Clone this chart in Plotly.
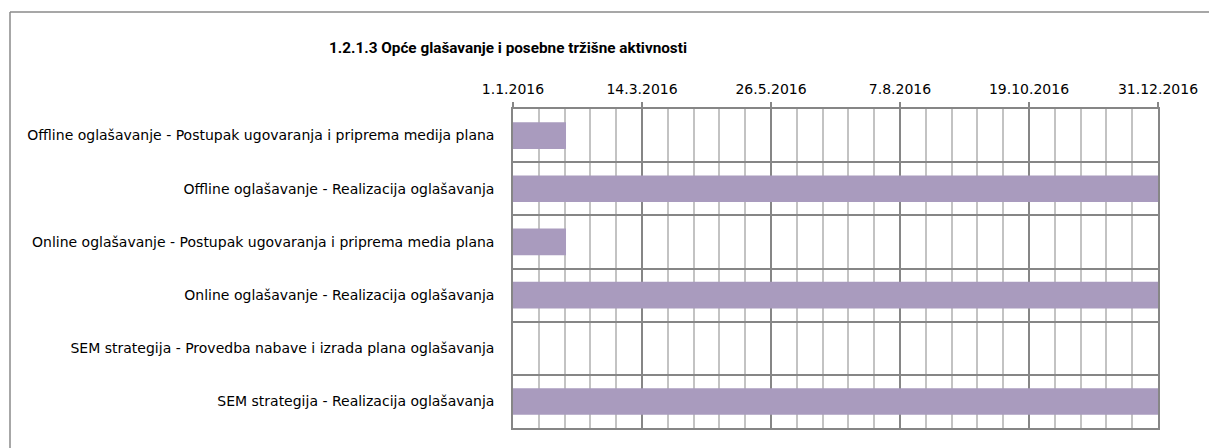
import pandas as pd
import plotly.graph_objects as go

# ---- data ----
tasks = [
    "Offline oglašavanje - Postupak ugovaranja i priprema medija plana",
    "Offline oglašavanje - Realizacija oglašavanja",
    "Online oglašavanje - Postupak ugovaranja i priprema media plana",
    "Online oglašavanje - Realizacija oglašavanja",
    "SEM strategija - Provedba nabave i izrada plana oglašavanja",
    "SEM strategija - Realizacija oglašavanja",
]
starts = ["2016-01-01", "2016-01-01", "2016-01-01", "2016-01-01", None, "2016-01-01"]
ends = ["2016-01-31", "2016-12-31", "2016-01-31", "2016-12-31", None, "2016-12-31"]
tick_dates = ["2016-01-01", "2016-03-14", "2016-05-26", "2016-08-07", "2016-10-19", "2016-12-31"]
tick_labels = ["1.1.2016", "14.3.2016", "26.5.2016", "7.8.2016", "19.10.2016", "31.12.2016"]
title_text = "1.2.1.3 Opće glašavanje i posebne tržišne aktivnosti"

DAY_MS = 86400000
durations = []
for s, e in zip(starts, ends):
    if s is None:
        durations.append(None)
    else:
        durations.append((pd.Timestamp(e) - pd.Timestamp(s)).days * DAY_MS)

FONT = "DejaVu Sans"
TITLE_FONT = "Roboto"
MAJOR = "#868686"
MINOR = "#C3C3C3"
BAR = "#A99BBE"

fig = go.Figure()
fig.add_trace(go.Bar(
    y=tasks,
    x=durations,
    base=starts,
    orientation="h",
    width=0.5,
    marker=dict(color=BAR, line=dict(width=0)),
    showlegend=False,
    hoverinfo="skip",
))

W, H = 1209, 448
L, R, T, B = 513, 51, 109, 20

fig.update_layout(
    width=W, height=H,
    margin=dict(l=L, r=R, t=T, b=B),
    paper_bgcolor="white",
    plot_bgcolor="white",
    font=dict(family=FONT, size=14, color="#000000"),
    title=dict(
        text="<b>" + title_text + "</b>",
        xref="container", yref="container",
        x=508 / W, xanchor="center",
        y=1 - 48 / H, yanchor="middle",
        font=dict(family=TITLE_FONT, size=15.3, color="#000000"),
    ),
    xaxis=dict(
        type="date",
        side="top",
        range=[tick_dates[0], tick_dates[-1]],
        tickmode="array",
        tickvals=tick_dates,
        ticktext=tick_labels,
        ticks="outside",
        ticklen=5,
        tickwidth=1.5,
        tickcolor=MAJOR,
        ticklabelstandoff=3,
        showgrid=True,
        gridcolor=MAJOR,
        gridwidth=1.5,
        showline=True,
        linecolor=MAJOR,
        linewidth=1.5,
        mirror=True,
        zeroline=False,
        tickfont=dict(family=FONT, size=14, color="#000000"),
        minor=dict(
            tickmode="linear",
            tick0=tick_dates[0],
            dtick=14.6 * DAY_MS,
            showgrid=True,
            gridcolor=MINOR,
            gridwidth=1.5,
            ticks="",
        ),
    ),
    yaxis=dict(
        type="category",
        categoryorder="array",
        categoryarray=tasks,
        autorange="reversed",
        tickson="boundaries",
        showgrid=True,
        gridcolor=MAJOR,
        gridwidth=1.5,
        ticks="",
        showline=True,
        linecolor=MAJOR,
        linewidth=1.5,
        mirror=True,
        ticklabelstandoff=14,
        tickfont=dict(family=FONT, size=14, color="#000000"),
    ),
    shapes=[
        dict(type="line", xref="paper", yref="paper",
             x0=(10 - L) / 645, x1=(1212 - L) / 645,
             y0=(H - B - 12) / 319, y1=(H - B - 12) / 319,
             line=dict(color="#8A8A8A", width=1.5)),
        dict(type="line", xref="paper", yref="paper",
             x0=(10 - L) / 645, x1=(10 - L) / 645,
             y0=(H - B - 12) / 319, y1=-0.2,
             line=dict(color="#8A8A8A", width=1.5)),
    ],
)

fig.write_html(
    "out.html",
    config={"displayModeBar": False},
    post_script="document.body.style.margin='0px';document.body.style.overflow='hidden';",
)
